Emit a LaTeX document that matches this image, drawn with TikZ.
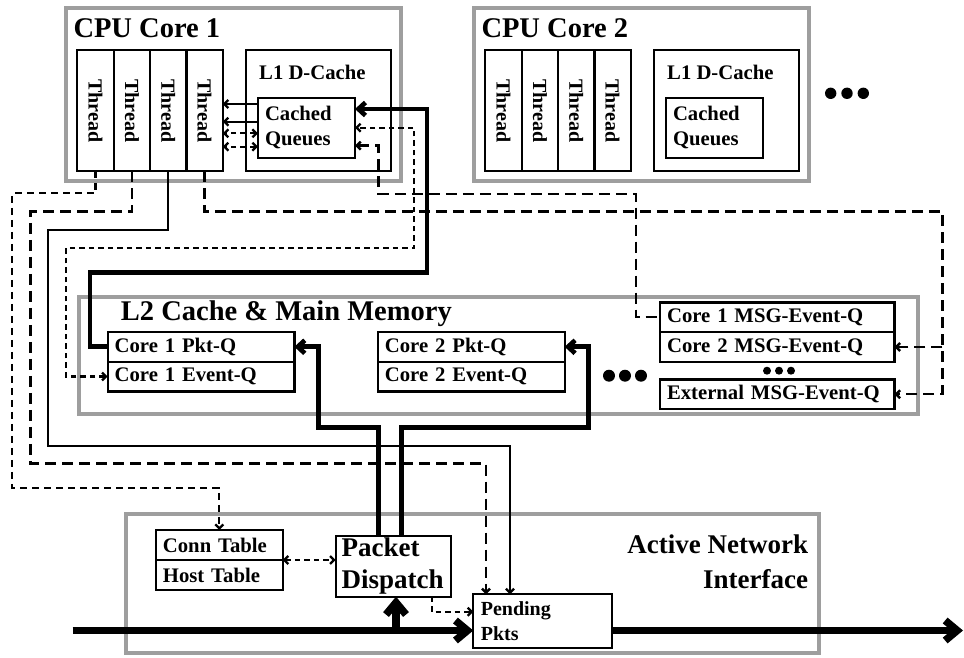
\documentclass[tikz,border=0pt]{standalone}
\usepackage{fontspec}
\setmainfont{Liberation Serif}
\usepackage{graphicx}
\usetikzlibrary{positioning,calc,arrows.meta}

\definecolor{framegray}{RGB}{158,158,158}
\newcommand{\vthread}{\rotatebox{-90}{Thread}}

\tikzset{
    unit/.style={draw=framegray, line width=4pt, rectangle, inner sep=0pt, outer sep=0pt},
    heading/.style={anchor=base west, inner sep=0pt, font=\fontsize{28.5}{30}\selectfont\bfseries},
    tag/.style={anchor=base west, inner sep=0pt, font=\fontsize{20.7}{25}\selectfont\bfseries},
    thread/.style={draw, rectangle, line width=2.3pt, minimum width=36.35pt, minimum height=120.7pt, inner sep=0pt, outer sep=0pt, font=\fontsize{20}{22}\selectfont\bfseries},
    cache/.style={draw, rectangle, line width=2.3pt, minimum width=145.3pt, minimum height=120.7pt, inner sep=0pt, outer sep=0pt},
    queue/.style={draw, rectangle, line width=2.3pt, text width=#1, inner xsep=7pt, inner ysep=0pt, minimum height=29.7pt, align=left, outer sep=0pt, font=\fontsize{20.7}{25}\selectfont\bfseries},
    link/.style={line width=2.3pt},
    finelink/.style={line width=2.3pt, dash pattern=on 5.5pt off 4pt},
    midlink/.style={line width=2.3pt, dash pattern=on 7pt off 5pt},
    longlink/.style={line width=2.5pt, dash pattern=on 11pt off 6pt},
    buslink/.style={line width=4.7pt, >={Straight Barb[length=7pt,width=13pt]}},
    wire/.style={line width=7.5pt, >={Straight Barb[length=12pt,width=20pt]}}
}

\begin{document}
\begin{tikzpicture}[x=1pt, y=-1pt, >={Straight Barb[length=4pt,width=8pt]}]
        \useasboundingbox (0,0) rectangle (964,658);

        % Frames
        \node (core1) [unit, minimum width=335pt, minimum height=173pt] at (233.5,94.5) {};
        \node (core2) [unit, minimum width=335pt, minimum height=173pt] at (641.5,94.5) {};
        \node (l2) [unit, minimum width=838.7pt, minimum height=116.7pt] at (498.7,355.3) {};
        \node (nic) [unit, minimum width=692.7pt, minimum height=139.3pt] at (472.3,583.3) {};

        \node (core1_title) [heading] at (73.3,38) {CPU Core 1};
        \node (core2_title) [heading] at (481.3,38) {CPU Core 2};
        \node (l2_title) [heading] at (120.7,320) {L2 Cache \& Main Memory};
        \node (nic_title) [anchor=north east, inner sep=0pt, align=right, font=\fontsize{27}{35}\selectfont\bfseries] at (808.3,535) {Active Network\\Interface};

        % Core 1
        \node (th11) [thread] at (95.5,110.7) {\vthread};
        \node (th12) [thread, right=0pt of th11] {\vthread};
        \node (th13) [thread, right=0pt of th12] {\vthread};
        \node (th14) [thread, right=0pt of th13] {\vthread};
        \node (l1c1) [cache] at (318.3,110.7) {};
        \node (l1c1_title) [tag] at (259,80) {L1 D-Cache};
        \node (cq1) [queue=83pt, minimum height=60pt] at (306.5,127.7) {Cached\\Queues};

        % Core 2
        \node (th21) [thread] at (503.5,110.7) {\vthread};
        \node (th22) [thread, right=0pt of th21] {\vthread};
        \node (th23) [thread, right=0pt of th22] {\vthread};
        \node (th24) [thread, right=0pt of th23] {\vthread};
        \node (l1c2) [cache] at (726.3,110.7) {};
        \node (l1c2_title) [tag] at (667,80) {L1 D-Cache};
        \node (cq2) [queue=83pt, minimum height=60pt] at (714.5,127.7) {Cached\\Queues};

        \foreach \dx in {0,16.3,32.6}
            \fill (830.7+\dx,93.3) circle[radius=5.7pt];

        % L2 queues
        \node (c1pkt) [queue=172.7pt] at (201,346.8) {Core 1 Pkt-Q};
        \node (c1evt) [queue=172.7pt, below=0pt of c1pkt] {Core 1 Event-Q};
        \node (c2pkt) [queue=172.7pt] at (471.3,346.8) {Core 2 Pkt-Q};
        \node (c2evt) [queue=172.7pt, below=0pt of c2pkt] {Core 2 Event-Q};
        \node (m1) [queue=220.3pt] at (777.2,317.2) {Core 1 MSG-Event-Q};
        \node (m2) [queue=220.3pt, below=0pt of m1] {Core 2 MSG-Event-Q};
        \node (m3) [queue=220.3pt, below=17.6pt of m2] {External MSG-Event-Q};

        \foreach \dx in {0,16,32}
            \fill (609+\dx,375.7) circle[radius=6pt];
        \foreach \dx in {0,12,24}
            \fill (767+\dx,370.7) circle[radius=4pt];

        % Network interface
        \node (conn) [queue=112.7pt, minimum height=30pt] at (219.3,545) {Conn Table};
        \node (host) [queue=112.7pt, minimum height=30pt, below=0pt of conn] {Host Table};
        \node (dispatch) [queue=103pt, inner xsep=6pt, minimum height=61pt, font=\fontsize{27}{31.7}\selectfont\bfseries] at (393.2,566.2) {Packet\\Dispatch};
        \node (pending) [queue=124pt, inner xsep=7.5pt, minimum height=54pt, font=\fontsize{20}{25}\selectfont\bfseries] at (542.8,621.3) {Pending\\Pkts};

        % Threads <-> cached queues
        \draw[link, ->] ([yshift=23.7pt]cq1.west) -- ([yshift=23.7pt]cq1.west -| th14.east);
        \draw[link, ->] ([yshift=6pt]cq1.west) -- ([yshift=6pt]cq1.west -| th14.east);
        \draw[finelink, <->] ([yshift=-5.6pt]cq1.west) -- ([yshift=-5.6pt]cq1.west -| th14.east);
        \draw[finelink, <->] ([yshift=-19pt]cq1.west) -- ([yshift=-19pt]cq1.west -| th14.east);

        % Cached queues <-> L2
        \draw[buslink, ->] (c1pkt.west) -| (90,272.7) -- (427,272.7) |- ([yshift=18.7pt]cq1.east);
        \draw[finelink, <->] (c1evt.west) -| (66,248.3) -- (414,248.3) |- (cq1.east);
        \draw[longlink, <-] ([yshift=-18pt]cq1.east) -| (378.3,193.8) -| (636,0 |- m1.west) -- (m1.west);

        % Threads to memory and network
        \draw[midlink, ->] (th11.south) |- (12.3,193.3) -- (12.3,487.7) -| (conn.north);
        \draw[longlink, ->] (th12.south) |- (30.7,211.7) -- (30.7,463.3) -| ([xshift=12.7pt]pending.north west);
        \draw[link, ->] (th13.south) |- (48.3,230) -- (48.3,446) -| ([xshift=36.7pt]pending.north west);
        \draw[longlink, ->] (th14.south) |- (942.3,211.7) |- (m3.east);
        \coordinate (fork) at (942.3,0 |- m2.east);
        \draw[longlink, ->] (fork) -- (m2.east);

        % Dispatch to packet queues
        \draw[buslink, ->] ([xshift=42.6pt]dispatch.north west) |- (318.3,427.7) |- (c1pkt.east);
        \draw[buslink, ->] ([xshift=66pt]dispatch.north west) |- (588.3,427.7) |- (c2pkt.east);

        \draw[finelink, <->] (conn.south east) -- (conn.south east -| dispatch.west);
        \draw[finelink, ->] ([xshift=-19pt]dispatch.south east) |- ([yshift=9.6pt]pending.west);

        % Wire
        \coordinate (wire_in) at (72.7,630.5);
        \coordinate (wire_out) at (963,630.5);
        \coordinate (tap) at (396,630.5);
        \draw[wire, ->] (wire_in) -- (wire_in -| pending.west);
        \draw[wire, ->] (wire_out -| pending.east) -- (wire_out);
        \draw[wire, ->] (tap) -- (tap |- dispatch.south);

    \end{tikzpicture}
\end{document}
